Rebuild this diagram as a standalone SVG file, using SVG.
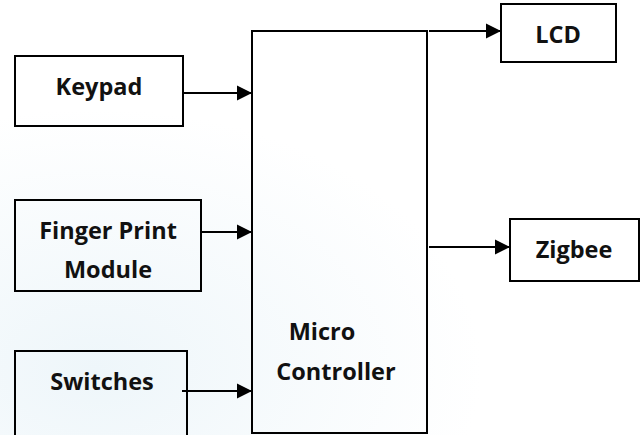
<svg xmlns="http://www.w3.org/2000/svg" width="642" height="435" viewBox="0 0 642 435">
<style>
.box{fill:none;stroke:#000;stroke-width:2}
.lbl{font-family:"Open Sans","Liberation Sans",sans-serif;font-weight:bold;font-size:23.5px;fill:#111;text-anchor:middle}
.con{stroke:#000;stroke-width:2;fill:none;marker-end:url(#ah)}
</style>
<defs>
<marker id="ah" markerUnits="userSpaceOnUse" markerWidth="16" markerHeight="16" refX="15" refY="8" orient="auto">
<path d="M0,0.5 L15,8 L0,15.5 Z" fill="#000"/>
</marker>
<radialGradient id="bg" cx="0.15" cy="0.85" r="0.6">
<stop offset="0" stop-color="#eef6fa"/>
<stop offset="1" stop-color="#ffffff"/>
</radialGradient>
</defs>
<rect x="0" y="0" width="642" height="435" fill="url(#bg)"/>
<g id="keypad">
<rect class="box" x="15" y="56" width="168" height="70" fill="#fff"/>
<text class="lbl" x="99" y="95">Keypad</text>
</g>
<g id="fingerprint">
<rect class="box" x="15" y="200" width="186" height="91"/>
<text class="lbl" x="108" y="239">Finger Print</text>
<text class="lbl" x="108" y="278">Module</text>
</g>
<g id="switches">
<rect class="box" x="15" y="351" width="172" height="95"/>
<text class="lbl" x="102" y="390">Switches</text>
</g>
<g id="microcontroller">
<rect class="box" x="252" y="31" width="175" height="402"/>
<text class="lbl" x="322" y="340">Micro</text>
<text class="lbl" x="336" y="380">Controller</text>
</g>
<g id="lcd">
<rect class="box" x="501" y="4" width="115" height="58"/>
<text class="lbl" x="558" y="43">LCD</text>
</g>
<g id="zigbee">
<rect class="box" x="510" y="219" width="129" height="62"/>
<text class="lbl" x="574" y="258">Zigbee</text>
</g>
<g id="connectors">
<line class="con" x1="183" y1="93" x2="252" y2="93"/>
<line class="con" x1="201" y1="232" x2="252" y2="232"/>
<line class="con" x1="182" y1="391" x2="252" y2="391"/>
<line class="con" x1="429" y1="31" x2="501" y2="31"/>
<line class="con" x1="429" y1="247" x2="510" y2="247"/>
</g>
</svg>
